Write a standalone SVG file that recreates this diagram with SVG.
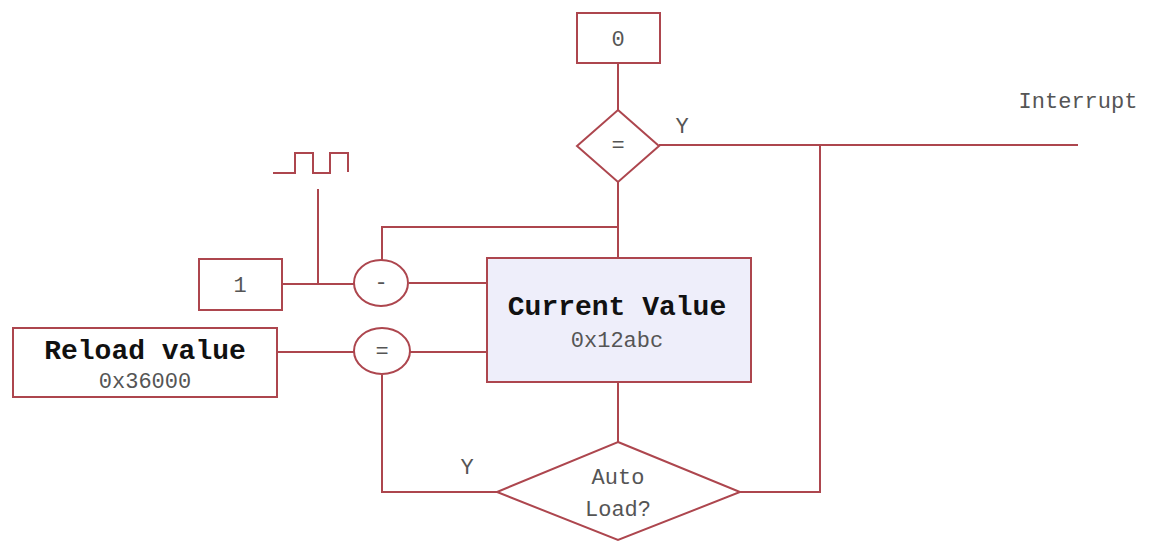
<svg xmlns="http://www.w3.org/2000/svg" width="1157" height="542" viewBox="0 0 1157 542">
<style>
.s{fill:none;stroke:#ad464e;stroke-width:2}
.b{fill:#ffffff;stroke:#ad464e;stroke-width:2}
.t{font-family:"Liberation Mono",monospace;font-size:22px;fill:#555555;text-anchor:middle}
.bt{font-family:"Liberation Mono",monospace;font-size:28px;font-weight:bold;fill:#111111;text-anchor:middle}
</style>
<rect width="1157" height="542" fill="#ffffff"/>
<g id="connectors">
<path class="s" d="M618 63V110"/>
<path class="s" d="M659 145H1078"/>
<path class="s" d="M618 182V258"/>
<path class="s" d="M382 260V227H618"/>
<path class="s" d="M282 284H354"/>
<path class="s" d="M318 189V284"/>
<path class="s" d="M409 283H487"/>
<path class="s" d="M277 352H354"/>
<path class="s" d="M410 352H487"/>
<path class="s" d="M618 382V442"/>
<path class="s" d="M497 492H382V375"/>
<path class="s" d="M740 492H820V145"/>
<path class="s" d="M273 173H295V153H313V173H330V153H348V172"/>
</g>
<g id="zero">
<rect class="b" x="577" y="13" width="83" height="50"/>
<text class="t" x="618" y="46">0</text>
</g>
<g id="eq-top">
<polygon class="b" points="618,110 659,146 618,182 577,146"/>
<text class="t" x="618" y="152">=</text>
</g>
<text class="t" x="682" y="133">Y</text>
<text class="t" x="1078" y="108">Interrupt</text>
<g id="one">
<rect class="b" x="199" y="259" width="83" height="51"/>
<text class="t" x="240" y="292">1</text>
</g>
<g id="minus">
<ellipse class="b" cx="381" cy="283" rx="27" ry="23"/>
<text class="t" x="381" y="289">-</text>
</g>
<g id="reload">
<rect class="b" x="13" y="328" width="264" height="69"/>
<text class="bt" x="145" y="359">Reload value</text>
<text class="t" x="145" y="388">0x36000</text>
</g>
<g id="eq-mid">
<ellipse class="b" cx="382" cy="351" rx="28" ry="23"/>
<text class="t" x="382" y="358">=</text>
</g>
<g id="current">
<rect x="487" y="258" width="264" height="124" fill="#eeeefa" stroke="#ad464e" stroke-width="2"/>
<text class="bt" x="617" y="315">Current Value</text>
<text class="t" x="617" y="347">0x12abc</text>
</g>
<g id="autoload">
<polygon class="b" points="618,442 740,492 618,540 497,492"/>
<text class="t" x="618" y="484">Auto</text>
<text class="t" x="618" y="516">Load?</text>
</g>
<text class="t" x="467" y="474">Y</text>
</svg>
